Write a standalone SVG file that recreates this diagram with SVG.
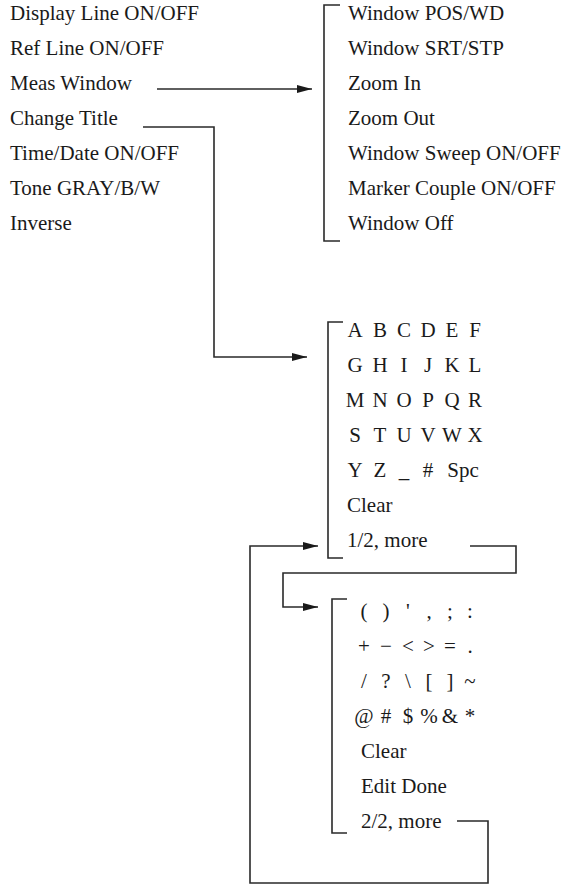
<svg xmlns="http://www.w3.org/2000/svg" width="567" height="886" viewBox="0 0 567 886" font-family="'Liberation Serif', 'Times New Roman', Tinos, serif">
<defs>
<style>
text{font-family:'Liberation Serif','Times New Roman',Tinos,serif;font-size:21px;fill:#1a1a1a}
.c{text-anchor:middle}
.br,.ln{fill:none;stroke:#2a2a2a;stroke-width:1.6}
</style>
<marker id="ah" markerUnits="userSpaceOnUse" markerWidth="16" markerHeight="10" refX="15" refY="5" orient="auto"><path d="M0,1 L15,5 L0,9 Z" fill="#1a1a1a"/></marker>
</defs>
<rect width="567" height="886" fill="#ffffff"/>
<g id="main-menu">
<text x="10" y="20">Display Line ON/OFF</text>
<text x="10" y="55">Ref Line ON/OFF</text>
<text x="10" y="90">Meas Window</text>
<text x="10" y="125">Change Title</text>
<text x="10" y="160">Time/Date ON/OFF</text>
<text x="10" y="195">Tone GRAY/B/W</text>
<text x="10" y="230">Inverse</text>
</g>
<g id="meas-window-menu">
<path class="br" d="M340,5 H324 V241 H340"/>
<text x="348" y="20">Window POS/WD</text>
<text x="348" y="55">Window SRT/STP</text>
<text x="348" y="90">Zoom In</text>
<text x="348" y="125">Zoom Out</text>
<text x="348" y="160">Window Sweep ON/OFF</text>
<text x="348" y="195">Marker Couple ON/OFF</text>
<text x="348" y="230">Window Off</text>
</g>
<g id="title-page-1">
<path class="br" d="M343,322 H328 V558 H343"/>
<text class="c" y="337"><tspan x="355">A</tspan><tspan x="380">B</tspan><tspan x="404">C</tspan><tspan x="428">D</tspan><tspan x="452">E</tspan><tspan x="475">F</tspan></text>
<text class="c" y="372"><tspan x="355">G</tspan><tspan x="380">H</tspan><tspan x="404">I</tspan><tspan x="428">J</tspan><tspan x="452">K</tspan><tspan x="475">L</tspan></text>
<text class="c" y="407"><tspan x="355">M</tspan><tspan x="380">N</tspan><tspan x="404">O</tspan><tspan x="428">P</tspan><tspan x="452">Q</tspan><tspan x="475">R</tspan></text>
<text class="c" y="442"><tspan x="355">S</tspan><tspan x="380">T</tspan><tspan x="404">U</tspan><tspan x="428">V</tspan><tspan x="452">W</tspan><tspan x="475">X</tspan></text>
<text class="c" y="477"><tspan x="355">Y</tspan><tspan x="380">Z</tspan><tspan x="404">_</tspan><tspan x="428">#</tspan><tspan x="463">Spc</tspan></text>
<text x="347" y="512">Clear</text>
<text x="347" y="547">1/2, more</text>
</g>
<g id="title-page-2">
<path class="br" d="M347,599 H332 V833 H347"/>
<text class="c" y="618"><tspan x="364">(</tspan><tspan x="386">)</tspan><tspan x="408">'</tspan><tspan x="429">,</tspan><tspan x="450">;</tspan><tspan x="470">:</tspan></text>
<text class="c" y="653"><tspan x="364">+</tspan><tspan x="386">−</tspan><tspan x="408">&lt;</tspan><tspan x="429">&gt;</tspan><tspan x="450">=</tspan><tspan x="470">.</tspan></text>
<text class="c" y="688"><tspan x="364">/</tspan><tspan x="386">?</tspan><tspan x="408">\</tspan><tspan x="429">[</tspan><tspan x="450">]</tspan><tspan x="470">~</tspan></text>
<text class="c" y="723"><tspan x="364">@</tspan><tspan x="386">#</tspan><tspan x="408">$</tspan><tspan x="429">%</tspan><tspan x="450">&amp;</tspan><tspan x="470">*</tspan></text>
<text x="361" y="758">Clear</text>
<text x="361" y="793">Edit Done</text>
<text x="361" y="828">2/2, more</text>
</g>
<g id="connectors">
<path class="ln" d="M157,89 H312" marker-end="url(#ah)"/>
<path class="ln" d="M143,127 H214 V357 H307" marker-end="url(#ah)"/>
<path class="ln" d="M470,546 H516 V573 H283 V607 H318" marker-end="url(#ah)"/>
<path class="ln" d="M457,821 H488 V883 H250 V546 H318" marker-end="url(#ah)"/>
</g>
</svg>
